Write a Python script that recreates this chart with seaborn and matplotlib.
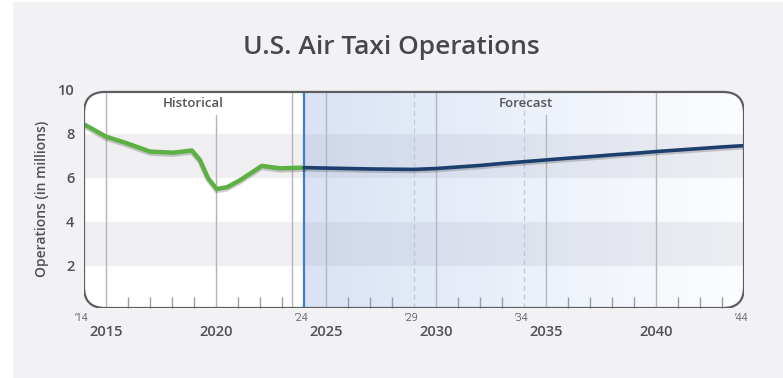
import numpy as np
import pandas as pd
import matplotlib
matplotlib.use("Agg")
import matplotlib.pyplot as plt
import matplotlib.patheffects as pe
from matplotlib.patches import FancyBboxPatch, Rectangle
import seaborn as sns

# ---- data ----
hist_years = [2014.05, 2015.0, 2015.94, 2017.0, 2018.06, 2018.9, 2019.27, 2019.64,
              2020.03, 2020.5, 2021.1, 2022.08, 2022.9, 2024.0]
hist_ops = [8.41, 7.88, 7.58, 7.2, 7.15, 7.25, 6.82, 5.99,
            5.5, 5.58, 5.9, 6.55, 6.44, 6.47]

fc_years = [2024, 2025, 2026, 2027, 2028, 2029, 2030, 2031, 2032, 2033, 2034,
            2035, 2036, 2037, 2038, 2039, 2040, 2041, 2042, 2043, 2044]
fc_ops = [6.47, 6.45, 6.43, 6.41, 6.40, 6.39, 6.43, 6.50, 6.57, 6.66, 6.74,
          6.82, 6.90, 6.97, 7.05, 7.12, 7.20, 7.27, 7.34, 7.41, 7.47]

major_years = [2015, 2020, 2025, 2030, 2035, 2040]
short_labels = {2014: "\u201914", 2024: "\u201924", 2029: "\u201929", 2034: "\u201934", 2044: "\u201944"}
y_ticks = [2, 4, 6, 8, 10]
band_ranges = [(2, 4), (6, 8)]
title = "U.S. Air Taxi Operations"
ylabel = "Operations (in millions)"

sns.set_theme(style="white")
plt.rcParams['font.family'] = ['Open Sans', 'DejaVu Sans']

W, H = 783, 378
fig = plt.figure(figsize=(W / 100, H / 100), dpi=100)
fig.patch.set_facecolor("white")
fig.patches.append(Rectangle((13 / W, 0), 1, 1 - 2 / H, transform=fig.transFigure,
                             facecolor="#f2f2f4", edgecolor="none", zorder=-10))

x0, x1 = 2014, 2044
ybot, ytop = 0.09, 10.0
box_top = 9.91
px_per = 22.0
ax_left = 84 / W
ax_w = (x1 - x0) * px_per / W
ax_bottom = (H - 308) / H
ax_h = (ytop - ybot) * px_per / H
ax = fig.add_axes([ax_left, ax_bottom, ax_w, ax_h])
ax.set_xlim(x0, x1)
ax.set_ylim(ybot, ytop)
ax.patch.set_visible(False)
for s in ax.spines.values():
    s.set_visible(False)

# rounded box background
bg = FancyBboxPatch((x0, ybot), x1 - x0, box_top - ybot,
                    boxstyle="round,pad=0,rounding_size=0.95",
                    facecolor="white", edgecolor="none", zorder=0,
                    transform=ax.transData)
ax.add_patch(bg)
clip = FancyBboxPatch((x0, ybot), x1 - x0, box_top - ybot,
                      boxstyle="round,pad=0,rounding_size=0.95",
                      facecolor="none", edgecolor="none", transform=ax.transData)
ax.add_patch(clip)

for lo, hi in band_ranges:
    r = ax.axhspan(lo, hi, color="#efeff2", zorder=1, lw=0)
    r.set_clip_path(clip)

# forecast gradient
n = 256
grad = np.zeros((1, n, 4))
grad[..., 0] = 0.50
grad[..., 1] = 0.62
grad[..., 2] = 0.86
grad[..., 3] = np.linspace(0.29, 0.02, n)
im = ax.imshow(grad, extent=[2024, 2044, ybot, box_top], aspect="auto",
               zorder=2, interpolation="bilinear")
im.set_clip_path(clip)

# vertical grid lines
full_lines = [2015, 2023.45, 2025, 2030, 2040]
for xv in full_lines:
    ax.plot([xv, xv], [ybot, box_top], color="#b4b6ba", lw=1.0, zorder=3)
for xv in [2020, 2035]:
    ax.plot([xv, xv], [ybot, 8.85], color="#b4b6ba", lw=1.0, zorder=3)
for xv in [2029, 2034]:
    ax.plot([xv, xv], [ybot, box_top], color="#c4c6cc", lw=0.9, ls=(0, (4, 3)), zorder=3)

ax.plot([2024, 2024], [ybot, box_top], color="#3d7fc4", lw=1.6, zorder=4)

# lines
shadow = [pe.SimpleLineShadow(offset=(0, -1.5), shadow_color="black", alpha=0.18), pe.Normal()]
hist_df = pd.DataFrame({"year": hist_years, "ops": hist_ops})
fc_df = pd.DataFrame({"year": fc_years, "ops": fc_ops})
sns.lineplot(data=hist_df, x="year", y="ops", ax=ax, color="#5db043", lw=3.2,
             sort=False, zorder=5, solid_joinstyle="round", solid_capstyle="round",
             path_effects=shadow)
sns.lineplot(data=fc_df, x="year", y="ops", ax=ax, color="#1c3f6e", lw=2.6,
             sort=False, zorder=6, solid_joinstyle="round", path_effects=shadow)

# box outline
outline = FancyBboxPatch((x0, ybot), x1 - x0, box_top - ybot,
                         boxstyle="round,pad=0,rounding_size=0.95",
                         facecolor="none", edgecolor="#5e5e62", lw=1.6, zorder=8,
                         transform=ax.transData)
ax.add_patch(outline)

# ticks
ax.set_yticks(y_ticks)
ax.set_yticklabels([str(v) for v in y_ticks])
ax.tick_params(axis="y", length=0, pad=7, labelsize=10.5, labelcolor="#505055")
for t in ax.get_yticklabels():
    t.set_fontweight("semibold")

ax.set_xticks(major_years)
ax.set_xticklabels([str(v) for v in major_years])
ax.tick_params(axis="x", which="major", length=0, pad=12, labelsize=10.5, labelcolor="#505055")
for t in ax.get_xticklabels():
    t.set_fontweight("semibold")
minor = [y for y in range(2015, 2044) if y not in major_years + [2024, 2029, 2034]]
ax.set_xticks(minor, minor=True)
ax.tick_params(axis="x", which="minor", direction="in", length=8, width=1.0,
               color="#9a9ca0", bottom=True)
for tl in ax.xaxis.get_minorticklines():
    tl.set_zorder(9)

tr = ax.get_xaxis_transform()
for yr, lab in short_labels.items():
    ax.text(yr - 0.1, -0.05, lab, transform=tr, ha="center", va="center",
            fontsize=7.5, color="#606065", clip_on=False)

ax.text(2018.95, 9.4, "Historical", ha="center", va="center", fontsize=9.5,
        fontweight="semibold", color="#555559", zorder=9)
ax.text(2034.1, 9.4, "Forecast", ha="center", va="center", fontsize=9.5,
        fontweight="semibold", color="#555559", zorder=9)

ax.set_xlabel("")
ax.set_ylabel(ylabel, fontsize=10, fontweight="semibold", color="#505055", labelpad=6)

fig.text(391 / W, 1 - 48 / H, title, ha="center", va="center", fontsize=19,
         fontweight="semibold", color="#47474b")

fig.savefig("out.png", dpi=100, facecolor=fig.get_facecolor())
